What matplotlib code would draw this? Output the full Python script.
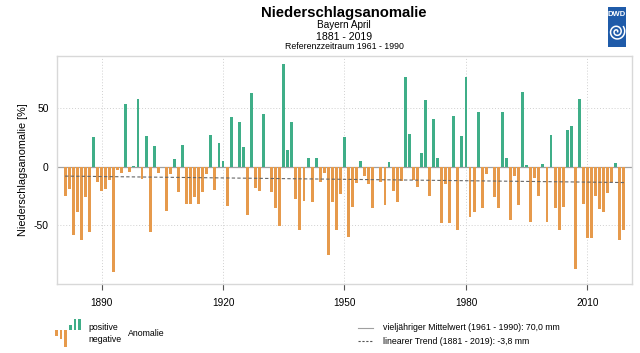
import numpy as np
import matplotlib
matplotlib.use("Agg")
import matplotlib.pyplot as plt
from matplotlib.patches import Rectangle

plt.rcParams['font.family'] = ['Liberation Sans', 'DejaVu Sans']

years = list(range(1881, 2020))
anomaly = [
    -25, -19.5, -58.5, -39, -63, -26, -56, 25, -13, -21,            # 1881-1890
    -19.5, -11.5, -90, -2.6, -5, 54, -4.3, 0.5, 58, -10.5,          # 1891-1900
    26.3, -56, 17.4, -5, 0, -38, -6.3, 7, -22, 18.3,                # 1901-1910
    -32.3, -32.3, -26.3, -32.3, -22, -6.6, 27, -19.7, 20, 5,        # 1911-1920
    -33.7, 42.6, 0, 38, 17, -41, 63, -18.3, -21, 45,                # 1921-1930
    0, -22, -35, -51, 88, 14, 38, -28, -54.3, -29.4,                # 1931-1940
    7.4, -30, 7.7, -13.4, -5, -75.7, -30.6, -54.3, -23.7, 25,       # 1941-1950
    -60.6, -34.3, -14.3, 5, -8, -15, -35.7, 0, -13, -32.6,          # 1951-1960
    4, -21, -30.6, -12, 76.6, 27.7, -11, -17.4, 11.4, 57.4,         # 1961-1970
    -25, 41, 7.4, -48.6, -14.6, -48.6, 43, -54.3, 26, 77,           # 1971-1980
    -43, -39, 47, -35.4, -6.6, -0.5, -26, -35.4, 46.6, 7.4,         # 1981-1990
    -45.4, -8.3, -33, 64, 1.7, -47.4, -9.4, -25.4, 2.6, -47,        # 1991-2000
    27.4, -35.7, -54.6, -34.6, 31, 35, -87.7, 57.7, -32, -61.4,     # 2001-2010
    -61.4, -25.4, -36.3, -39, -22.3, -13, 2.9, -62.6, -54.3,        # 2011-2019
]
xticks = [1890, 1920, 1950, 1980, 2010]
yticks = [-50, 0, 50]
legend_icon = [-0.35, -0.55, -1.0, 0.3, 0.8, 1.0]

GREEN = '#3fae88'
ORANGE = '#e69a4c'

W, H = 640, 353
fig = plt.figure(figsize=(W / 100, H / 100), dpi=100)

def fx(x):
    return x / W

def fy(y):
    return 1 - y / H

ax = fig.add_axes([fx(57), fy(283.5), fx(632) - fx(57), fy(55.7) - fy(283.5)])

yrs = np.array(years)
vals = np.array(anomaly)
colors = [GREEN if v >= 0 else ORANGE for v in vals]
ax.bar(yrs, vals, width=0.72, color=colors, edgecolor='none', zorder=3)

# mean line (zero) and linear trend
ax.axhline(0, color='#a0a0a0', lw=0.9, zorder=2)
coef = np.polyfit(yrs, vals, 1)
trend = np.polyval(coef, yrs[[0, -1]])
ax.plot(yrs[[0, -1]], trend, ls=(0, (3, 2)), color='#666666', lw=0.8, zorder=4)

ax.set_xlim(1879, 2021)
ax.set_ylim(-100, 95)
ax.set_xticks(xticks)
ax.set_yticks(yticks)
ax.set_yticklabels([str(t) for t in yticks])
ax.grid(True, ls=(0, (1, 2)), color='#d0d0d0', lw=0.7, zorder=0)
for s in ax.spines.values():
    s.set_color('#d8d8d8')
    s.set_linewidth(1.0)
ax.tick_params(axis='x', length=4, width=0.8, color='#555555', labelsize=7.2, pad=6.5)
ax.tick_params(axis='y', length=0, labelsize=7.5, pad=6)

ax.set_ylabel('Niederschlagsanomalie [%]', fontsize=7.8, labelpad=4)

# titles
fig.text(fx(344), fy(12.5), 'Niederschlagsanomalie', ha='center', va='center',
         fontsize=10.7, fontweight='bold')
fig.text(fx(344), fy(25), 'Bayern April', ha='center', va='center', fontsize=7.2)
fig.text(fx(344), fy(37), '1881 - 2019', ha='center', va='center', fontsize=7.6)
fig.text(fx(344), fy(46.5), 'Referenzzeitraum 1961 - 1990', ha='center', va='center', fontsize=6.3)

# DWD logo
lax = fig.add_axes([fx(607.5), fy(46.5), fx(626) - fx(607.5), fy(6.5) - fy(46.5)])
lax.set_xlim(0, 1)
lax.set_ylim(0, 1)
lax.axis('off')
lax.add_patch(Rectangle((0, 0), 1, 1, color='#1f5ba9'))
lax.text(0.5, 0.8, 'DWD', color='white', ha='center', va='center', fontsize=5.5, fontweight='bold')
t = np.linspace(0, 4.2 * np.pi, 300)
r = 0.05 + 0.032 * t
lax.plot(0.5 + r * np.cos(t) * 0.95, 0.37 + r * np.sin(t) * 0.45, color='white', lw=1.1)

# legend icon
iax = fig.add_axes([fx(54), fy(347), fx(82) - fx(54), fy(319) - fy(347)])
iax.bar(range(len(legend_icon)), legend_icon, width=0.6,
        color=[GREEN if v >= 0 else ORANGE for v in legend_icon])
iax.set_ylim(-1.0, 0.62)
iax.set_xlim(-0.5, len(legend_icon) - 0.5)
iax.axis('off')
fig.text(fx(88), fy(327.5), 'positive', ha='left', va='center', fontsize=6.3)
fig.text(fx(88), fy(339.5), 'negative', ha='left', va='center', fontsize=6.3)
fig.text(fx(128), fy(333.5), 'Anomalie', ha='left', va='center', fontsize=6.3)

# right legend
fig.lines.append(plt.Line2D([fx(358), fx(373)], [fy(328), fy(328)], transform=fig.transFigure,
                            color='#a0a0a0', lw=0.8))
fig.lines.append(plt.Line2D([fx(358), fx(373)], [fy(341), fy(341)], transform=fig.transFigure,
                            color='#555555', lw=0.8, ls=(0, (2, 1.5))))
fig.text(fx(383), fy(328), 'vieljähriger Mittelwert (1961 - 1990): 70,0 mm', ha='left', va='center', fontsize=6.3)
fig.text(fx(383), fy(341), 'linearer Trend (1881 - 2019): -3,8 mm', ha='left', va='center', fontsize=6.3)

fig.savefig('out.png', dpi=100)
